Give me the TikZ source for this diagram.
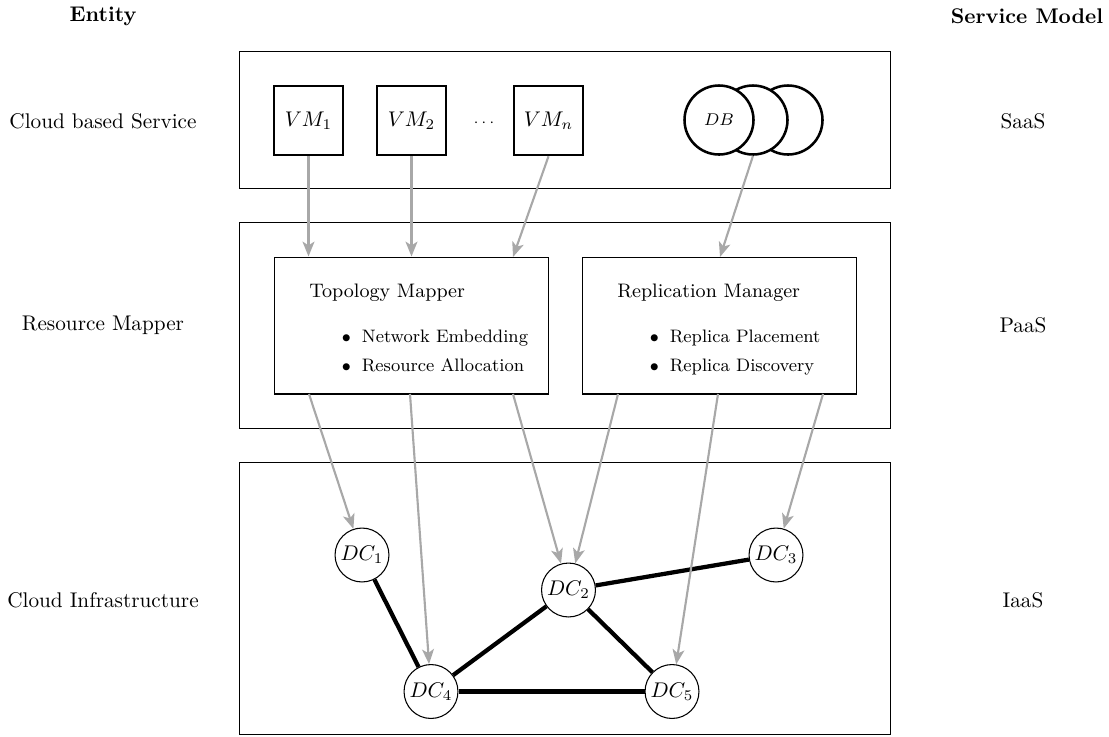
\documentclass[tikz,border=0pt]{standalone}
\usetikzlibrary{arrows.meta,calc}
\definecolor{linkgray}{RGB}{168,168,168}
\newcommand\itemfont{\fontsize{8.5}{10}\selectfont}
\newcommand\titlefont{\fontsize{9.2}{11}\selectfont}
\begin{document}
\begin{tikzpicture}[x=0.471pt,y=-0.471pt,
  layer/.style={draw, line width=0.45pt, minimum width=306.2pt, inner sep=0pt},
  vmbox/.style={draw, line width=1.2pt, minimum size=32.5pt, inner sep=0pt},
  dbdisk/.style={draw, circle, line width=1.2pt, fill=white, minimum size=32.5pt, inner sep=0pt, font=\footnotesize},
  panel/.style={draw, line width=0.5pt, minimum width=129.1pt, minimum height=64.5pt, inner sep=0pt},
  paneltext/.style={anchor=base west, inner sep=0pt},
  bulletmark/.style={anchor=base, inner sep=0pt, font=\itemfont},
  dc/.style={draw, circle, line width=0.5pt, fill=white, minimum size=25.4pt, inner sep=0pt},
  link/.style={draw=black, line width=2pt},
  feed/.style={draw=linkgray, line width=1pt, -{Stealth[length=7pt,width=5.6pt,inset=1.8pt]}},
  head/.style={font=\bfseries},
]
\useasboundingbox (0,0) rectangle (1109,736);

% column headings
\node[head] (hent) at (103,16) {Entity};
\node[head] (hsm) at (1027,16) {Service Model};

% layers
\node[layer, minimum height=64.1pt] (saas) at (565,120) {};
\node[layer, minimum height=96.6pt] (paas) at (565,325.5) {};
\node[layer, minimum height=128.1pt] (iaas) at (565,598) {};

% row labels
\node (lsaas) at (103,121) {Cloud based Service};
\node (lpaas) at (103,325) {Resource Mapper};
\node (liaas) at (103,600) {Cloud Infrastructure};
\node (rsaas) at (1023,121) {SaaS};
\node (rpaas) at (1023,325) {PaaS};
\node (riaas) at (1023,600) {IaaS};

% service layer
\node[vmbox] (vm1) at (308.5,120.5) {$VM_1$};
\node[vmbox] (vm2) at (411.5,120.5) {$VM_2$};
\node[vmbox] (vmn) at (548.5,120.5) {$VM_n$};
\node[anchor=base, font=\scriptsize] (dots) at (484,126.7) {$\cdots$};
\node[dbdisk] (db3) at (788,120) {};
\node[dbdisk] (db2) at (753,120) {};
\node[dbdisk] (db1) at (719,120) {$DB$};

% mapper layer
\node[panel] (tm) at (411.5,325.5) {};
\node[panel] (rm) at (719.5,325.5) {};
\node[paneltext, font=\titlefont] (tmt) at ($(tm.west)+(35,-28.5)$) {Topology Mapper};
\node[bulletmark] (tmb1) at ($(tm.west)+(72.5,17)$) {$\bullet$};
\node[paneltext, font=\itemfont] (tmi1) at ($(tm.west)+(87.5,17)$) {Network Embedding};
\node[bulletmark] (tmb2) at ($(tm.west)+(72.5,46)$) {$\bullet$};
\node[paneltext, font=\itemfont] (tmi2) at ($(tm.west)+(87.5,46)$) {Resource Allocation};
\node[paneltext, font=\titlefont] (rmt) at ($(rm.west)+(35,-28.5)$) {Replication Manager};
\node[bulletmark] (rmb1) at ($(rm.west)+(72.5,17)$) {$\bullet$};
\node[paneltext, font=\itemfont] (rmi1) at ($(rm.west)+(87.5,17)$) {Replica Placement};
\node[bulletmark] (rmb2) at ($(rm.west)+(72.5,46)$) {$\bullet$};
\node[paneltext, font=\itemfont] (rmi2) at ($(rm.west)+(87.5,46)$) {Replica Discovery};

% entry and exit points on the mapper panels
\coordinate (tmin3) at (513,257);
\coordinate (rmin) at (720,257);
\coordinate (tmo1) at (309,394);
\coordinate (tmo2) at (410,394);
\coordinate (tmo3) at (513,394);
\coordinate (rmo1) at (618,394);
\coordinate (rmo2) at (718,394);
\coordinate (rmo3) at (823,394);

% infrastructure layer
\node[dc] (dc1) at (362,555) {$DC_1$};
\node[dc] (dc2) at (568.5,590) {$DC_2$};
\node[dc] (dc3) at (776,555) {$DC_3$};
\node[dc] (dc4) at (431,691.5) {$DC_4$};
\node[dc] (dc5) at (672,691.5) {$DC_5$};

\draw[link] (dc1) -- (dc4);
\draw[link] (dc2) -- (dc3);
\draw[link] (dc2) -- (dc4);
\draw[link] (dc2) -- (dc5);
\draw[link] (dc4) -- (dc5);

% mappings between layers
\draw[feed] (vm1.south) -- (vm1.south |- tm.north);
\draw[feed] (vm2.south) -- (vm2.south |- tm.north);
\draw[feed] (vmn.south) -- (tmin3);
\draw[feed] (db2.south) -- (rmin);
\draw[feed] (tmo1) -- (dc1);
\draw[feed] (tmo2) -- (dc4);
\draw[feed] (tmo3) -- (dc2);
\draw[feed] (rmo1) -- (dc2);
\draw[feed] (rmo2) -- (dc5);
\draw[feed] (rmo3) -- (dc3);
\end{tikzpicture}
\end{document}
